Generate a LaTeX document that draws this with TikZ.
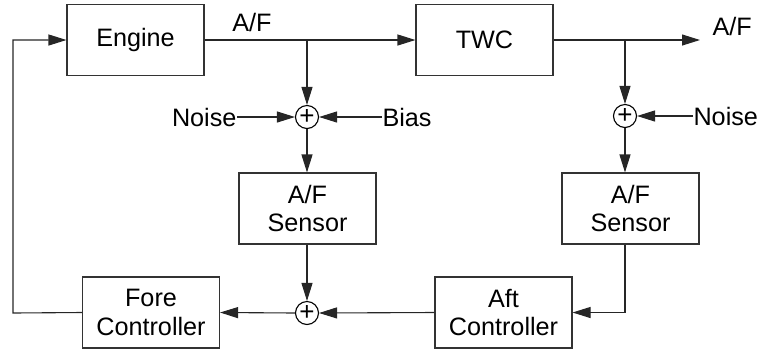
\documentclass[tikz,border=0pt]{standalone}
\usepackage{fontspec}
\setmainfont{Liberation Sans}
\usetikzlibrary{arrows.meta}
\begin{document}
\begin{tikzpicture}[x=0.5pt,y=-0.5pt,
  line width=0.55pt,
  every node/.style={font=\fontsize{12.6}{14.2}\selectfont},
  blk/.style={draw=black!80, minimum width=68.5pt, minimum height=35.5pt, inner sep=0pt, align=center},
  sumnode/.style={draw=black, circle, minimum size=11.5pt, inner sep=0pt, font=\fontsize{13}{13}\selectfont},
  lbl/.style={inner sep=0pt},
  arr/.style={draw=black!85, -{Triangle[length=9pt,width=5.5pt]}}]
\useasboundingbox (0,0) rectangle (762,350);
\node[blk] (eng) at (135.5,40) {Engine};
\node[blk] (twc) at (484.5,40) {TWC};
\node[sumnode] (s1) at (307,117) {+};
\node[lbl, anchor=east] (n1) at (237,117) {Noise};
\node[lbl, anchor=west] (bias) at (382,117) {Bias};
\node[blk] (sen1) at (307.5,208.5) {A/F\\Sensor};
\node[sumnode] (s2) at (307,313) {+};
\node[blk] (fore) at (151,312.5) {Fore\\Controller};
\node[blk] (aft) at (503.5,312.5) {Aft\\Controller};
\node[blk] (sen2) at (630.5,208.5) {A/F\\Sensor};
\node[sumnode] (s3) at (625,116) {+};
\node[lbl, anchor=west] (n2) at (693,116) {Noise};
\node[lbl] (af1) at (252,22) {A/F};
\node[lbl, anchor=west] (af2) at (712,26) {A/F};
\coordinate (out) at (700,40);
\coordinate (br1) at (s1 |- eng.east);
\coordinate (br2) at (s3 |- twc.east);
\coordinate (fb) at (13,313);
\draw[arr] (eng.east) -- (twc.west);
\draw[arr] (twc.east) -- (out);
\draw[arr] (br1) -- (s1);
\draw[arr] (br2) -- (s3);
\draw[arr] (n1.east) -- (s1.west);
\draw[arr] (bias.west) -- (s1.east);
\draw[arr] (n2.west) -- (s3.east);
\draw[arr] (s1.south) -- (s1 |- sen1.north);
\draw[arr] (s3.south) -- (s3 |- sen2.north);
\draw[arr] (sen1.south -| s2) -- (s2.north);
\draw[arr] (aft.west) -- (s2.east);
\draw[arr] (s2.west) -- (fore.east);
\draw[arr] (sen2.south -| s3) |- (aft.east);
\draw[arr] (fore.west) -- (fb) |- (eng.west);
\end{tikzpicture}
\end{document}
